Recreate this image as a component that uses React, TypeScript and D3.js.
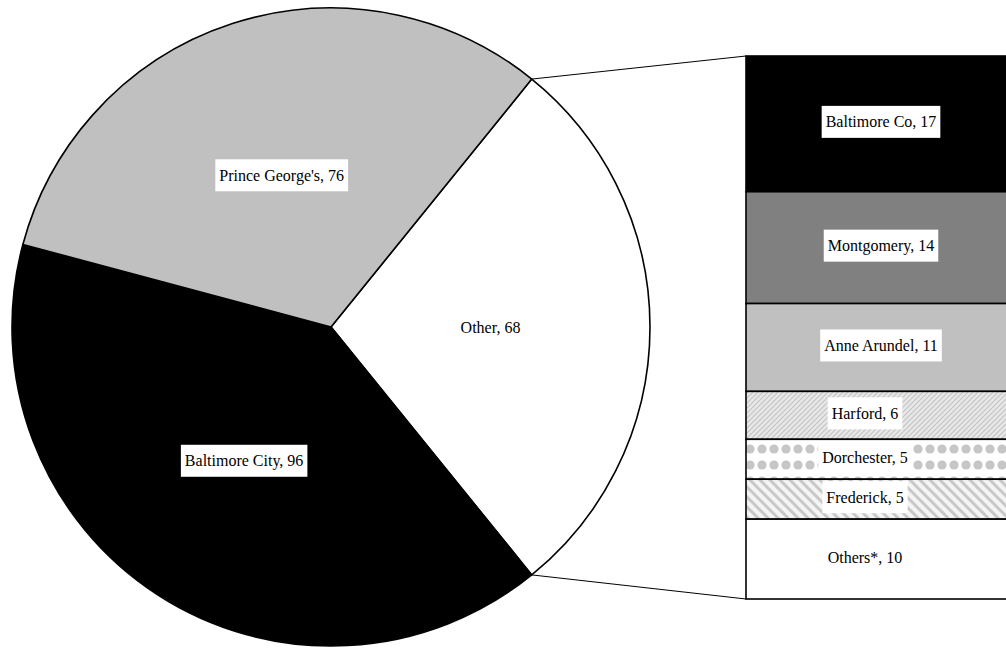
import React, { useEffect, useRef } from "react";
import * as d3 from "d3";

const pieLabels = ["Other", "Baltimore City", "Prince George's"];
const pieValues = [68, 96, 76];
const pieFills = ["#ffffff", "#000000", "#c0c0c0"];

const barLabels = ["Baltimore Co", "Montgomery", "Anne Arundel", "Harford", "Dorchester", "Frederick", "Others*"];
const barValues = [17, 14, 11, 6, 5, 5, 10];
const barFills = ["#000000", "#808080", "#c0c0c0", "url(#pHarford)", "url(#pDorchester)", "url(#pFrederick)", "#ffffff"];

const W = 1006;
const H = 649;

export default function App() {
  const ref = useRef<SVGSVGElement | null>(null);

  useEffect(() => {
    const svg = d3.select(ref.current);
    svg.selectAll("*").remove();

    const defs = svg.append("defs");
    // Harford: fine "/" hatch
    const ph = defs.append("pattern").attr("id", "pHarford").attr("patternUnits", "userSpaceOnUse")
      .attr("width", 5).attr("height", 5);
    ph.append("rect").attr("width", 5).attr("height", 5).attr("fill", "#e8e8e8");
    ph.append("path").attr("d", "M-1,6 L6,-1 M-1,1 L1,-1 M4,6 L6,4").attr("stroke", "#c4c4c4").attr("stroke-width", 1.2);
    // Dorchester: gray blobs grid
    const pd = defs.append("pattern").attr("id", "pDorchester").attr("patternUnits", "userSpaceOnUse")
      .attr("width", 12).attr("height", 16).attr("y", 441);
    pd.append("rect").attr("width", 12).attr("height", 16).attr("fill", "#ffffff");
    pd.append("circle").attr("cx", 6).attr("cy", 8).attr("r", 4.6).attr("fill", "#c6c6c6");
    // Frederick: "\" stripes
    const pf = defs.append("pattern").attr("id", "pFrederick").attr("patternUnits", "userSpaceOnUse")
      .attr("width", 10).attr("height", 10);
    pf.append("rect").attr("width", 10).attr("height", 10).attr("fill", "#f4f4f4");
    pf.append("path").attr("d", "M-2,-2 L12,12 M-2,8 L2,12 M8,-2 L12,2").attr("stroke", "#c8c8c8").attr("stroke-width", 3);

    const cx = 331, cy = 327, R = 319;
    const otherFrac = pieValues[0] / d3.sum(pieValues);
    const start = Math.PI / 2 - otherFrac * Math.PI;

    const pie = d3.pie<number>().sort(null).value((d) => d)
      .startAngle(start).endAngle(start + 2 * Math.PI);
    const arcs = pie(pieValues);
    const arc = d3.arc<d3.PieArcDatum<number>>().innerRadius(0).outerRadius(R);
    const labelArc = d3.arc<d3.PieArcDatum<number>>().innerRadius(R * 0.5).outerRadius(R * 0.5);

    const g = svg.append("g").attr("transform", `translate(${cx},${cy})`);
    g.selectAll("path.slice").data(arcs).enter().append("path")
      .attr("class", "slice")
      .attr("d", arc)
      .attr("fill", (_d, i) => pieFills[i])
      .attr("stroke", "#000").attr("stroke-width", 1.6).attr("stroke-linejoin", "round");

    // Bar of pie
    const bx0 = 746, bx1 = 1016, by0 = 56, by1 = 599;
    const total = d3.sum(barValues);
    const y = d3.scaleLinear().domain([0, total]).range([by0, by1]);
    const cum = d3.cumsum(barValues);
    const segs = barValues.map((v, i) => ({ v, i, y0: y(cum[i] - v), y1: y(cum[i]) }));

    // connector lines
    const a0 = arcs[0];
    const p1 = [cx + R * Math.sin(a0.startAngle), cy - R * Math.cos(a0.startAngle)];
    const p2 = [cx + R * Math.sin(a0.endAngle), cy - R * Math.cos(a0.endAngle)];
    svg.append("line").attr("x1", p1[0]).attr("y1", p1[1]).attr("x2", bx0).attr("y2", by0)
      .attr("stroke", "#000").attr("stroke-width", 1);
    svg.append("line").attr("x1", p2[0]).attr("y1", p2[1]).attr("x2", bx0).attr("y2", by1)
      .attr("stroke", "#000").attr("stroke-width", 1);

    svg.selectAll("rect.seg").data(segs).enter().append("rect")
      .attr("class", "seg")
      .attr("x", bx0).attr("y", (d) => d.y0)
      .attr("width", bx1 - bx0).attr("height", (d) => d.y1 - d.y0)
      .attr("fill", (d) => barFills[d.i])
      .attr("stroke", "#000").attr("stroke-width", 1.6);

    const font = '"Liberation Serif", "Times New Roman", Tinos, "DejaVu Serif", serif';
    const addLabel = (x: number, yc: number, text: string) => {
      const lg = svg.append("g");
      const rect = lg.append("rect").attr("fill", "#fff");
      const t = lg.append("text").attr("x", x).attr("y", yc + 5.5)
        .attr("text-anchor", "middle")
        .style("font-family", font).style("font-size", "16px")
        .attr("fill", "#000").text(text);
      const bb = (t.node() as SVGTextElement).getBBox();
      rect.attr("x", bb.x - 4).attr("y", yc - 16).attr("width", bb.width + 8).attr("height", 32);
    };

    arcs.forEach((a, i) => {
      const [lx, ly] = labelArc.centroid(a);
      addLabel(cx + lx, cy + ly, `${pieLabels[i]}, ${pieValues[i]}`);
    });

    segs.forEach((s) => {
      const mid = (bx0 + 1006) / 2 + (s.i < 3 ? 5 : -11);
      addLabel(mid, (s.y0 + s.y1) / 2 - 2, `${barLabels[s.i]}, ${barValues[s.i]}`);
    });
  }, []);

  return (
    <svg ref={ref} width={W} height={H}
      style={{ position: "absolute", left: 0, top: 0, background: "#fff", display: "block" }} />
  );
}
